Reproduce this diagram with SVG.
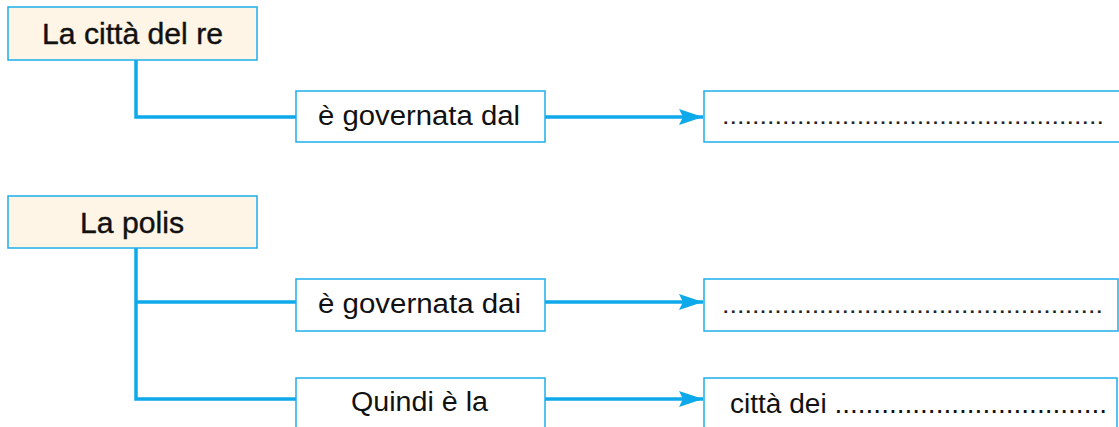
<svg xmlns="http://www.w3.org/2000/svg" width="1119" height="427" viewBox="0 0 1119 427">
<style>
.head{fill:#FEF5E6;stroke:#1DAEEA;stroke-width:1.5}
.box{fill:#FFFFFF;stroke:#1DAEEA;stroke-width:1.5}
.t{font-family:"Liberation Sans",Arial,sans-serif;font-size:27px;fill:#111111}
.h{font-size:30px;stroke:#111111;stroke-width:0.4}
.d{font-size:24px;fill:#222222}
.c{text-anchor:middle}
.line{fill:none;stroke:#0DA9EA;stroke-width:3.5}
.arr{fill:none;stroke:#0DA9EA;stroke-width:3.5}
</style>
<defs>
<marker id="ah" markerUnits="userSpaceOnUse" markerWidth="26" markerHeight="16" refX="24" refY="8" orient="auto">
<path d="M0,0 L24,8 L0,16 L4,8 Z" fill="#0DA9EA"/>
</marker>
</defs>
<rect x="0" y="0" width="1119" height="427" fill="#FFFFFF"/>
<g id="connectors">
<path class="line" d="M136 60 V117 H296"/>
<path class="line" d="M136 248 V399 H296"/>
<path class="line" d="M136 302 H296"/>
<path class="arr" d="M545 117 H703" marker-end="url(#ah)"/>
<path class="arr" d="M545 302 H703" marker-end="url(#ah)"/>
<path class="arr" d="M545 399 H703" marker-end="url(#ah)"/>
</g>
<g id="n1">
<rect class="head" x="8" y="7" width="249" height="53"/>
<text class="t h c" x="132.5" y="43.5" textLength="181" lengthAdjust="spacingAndGlyphs">La città del re</text>
</g>
<g id="n2">
<rect class="box" x="296" y="91" width="249" height="51"/>
<text class="t c" x="419" y="124.5" textLength="202" lengthAdjust="spacingAndGlyphs">è governata dal</text>
</g>
<g id="n3">
<rect class="box" x="704" y="91" width="425" height="51"/>
<text class="t d" x="722" y="124" textLength="382" lengthAdjust="spacingAndGlyphs">...................................................</text>
</g>
<g id="n4">
<rect class="head" x="8" y="196" width="249" height="52"/>
<text class="t h c" x="132" y="232.5" textLength="104" lengthAdjust="spacingAndGlyphs">La polis</text>
</g>
<g id="n5">
<rect class="box" x="296" y="279" width="249" height="52"/>
<text class="t c" x="419.5" y="313" textLength="203" lengthAdjust="spacingAndGlyphs">è governata dai</text>
</g>
<g id="n6">
<rect class="box" x="704" y="279" width="414" height="52"/>
<text class="t d" x="722" y="313" textLength="381" lengthAdjust="spacingAndGlyphs">...................................................</text>
</g>
<g id="n7">
<rect class="box" x="296" y="378" width="249" height="60"/>
<text class="t c" x="419.5" y="411" textLength="137" lengthAdjust="spacingAndGlyphs">Quindi è la</text>
</g>
<g id="n8">
<rect class="box" x="704" y="378" width="413" height="60"/>
<text class="t" x="730" y="413" textLength="377" lengthAdjust="spacingAndGlyphs">città dei ...................................</text>
</g>
</svg>
